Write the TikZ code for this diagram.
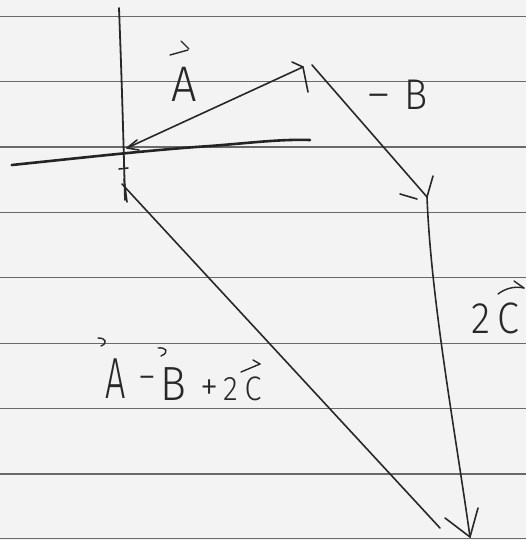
\documentclass[tikz,border=0pt]{standalone}
\usepackage{fontspec}
\IfFontExistsTF{Fira Sans Light}{%
  \newfontfamily\hand[FakeStretch=0.9]{Fira Sans Light}%
  \newfontfamily\handn[FakeStretch=0.62]{Fira Sans Light}}{%
  \newfontfamily\hand[FakeStretch=0.9]{Fira Sans}%
  \newfontfamily\handn[FakeStretch=0.62]{Fira Sans}}
\definecolor{paper}{RGB}{243,243,243}
\definecolor{ink}{RGB}{40,40,40}
\definecolor{rulecol}{RGB}{105,105,105}
\begin{document}
\begin{tikzpicture}[x=1pt,y=-1pt,
  pencil/.style={draw=ink, line width=1.6pt, line cap=round, line join=round},
  axisline/.style={draw=ink, line width=1.8pt, line cap=round},
  axisthick/.style={draw=ink!90!black, line width=2.6pt, line cap=round},
  ruled/.style={draw=rulecol, line width=1.1pt},
  hat/.style={draw=ink, line width=1.4pt, line cap=round, line join=round},
  lbl/.style={text=ink, inner sep=0pt, outer sep=0pt}]
\useasboundingbox (0,0) rectangle (526,540);
\fill[paper] (0,0) rectangle (526,540);
\foreach \yy in {16.2,81.6,147,212.4,277.8,343.2,408.6,474,538.5}
  \draw[ruled] (0,\yy) -- (526,\yy);

% points
\coordinate (Vtop) at (119,8);
\coordinate (Vbot) at (125,200);
\coordinate (Hleft) at (11.7,165);
\coordinate (Hright) at (310,140);
\coordinate (O) at (127,148);
\coordinate (Atip) at (303,67);
\coordinate (Ab1) at (292,62);
\coordinate (Ab2) at (308,92);
\coordinate (Ob1) at (137,140);
\coordinate (Ob2) at (139,150);
\coordinate (Bstart) at (312,65);
\coordinate (Btip) at (427,197);
\coordinate (Bb1) at (433,176);
\coordinate (Bd1) at (400,194);
\coordinate (Bd2) at (417,199);
\coordinate (Ctip) at (470,537);
\coordinate (Cb1) at (478,508);
\coordinate (Cb2) at (445,518);
\coordinate (Rstart) at (122,184);
\coordinate (Rend) at (440,528);
\coordinate (Rt1) at (124,179);
\coordinate (Rt2) at (127,202);
\coordinate (Pm1) at (119,169);
\coordinate (Pm2) at (128,168);

% axes
\draw[axisline] (Vtop) .. controls (121,60) and (123,120) .. (Vbot);
\draw[axisthick] (Hleft) .. controls (80,158) and (150,150) .. (210,146) .. controls (250,143) and (280,139) .. (Hright);

% vector A
\draw[pencil] (O) -- (Atip);
\draw[pencil] (Ab1) -- (Atip) -- (Ab2);
\draw[pencil] (Ob1) -- (O) -- (Ob2);
% vector -B
\draw[pencil] (Bstart) -- (Btip);
\draw[pencil] (Bb1) -- (Btip);
\draw[pencil] (Bd1) -- (Bd2);
% vector 2C
\draw[pencil] (Btip) .. controls (431,300) and (455,430) .. (Ctip);
\draw[pencil] (Cb1) -- (Ctip) -- (Cb2);
% resultant
\draw[pencil] (Rstart) -- (Rend);
\draw[pencil] (Rt1) -- (Rt2);
\draw[pencil] (Pm1) -- (Pm2);

% labels
\node[lbl, anchor=base, font=\hand\fontsize{50}{50}\selectfont] (lA) at (184,102) {A};
\draw[hat] (170,55) -- (188,50);
\draw[hat] (181,41) -- (189,49);

\node[lbl, anchor=base west, font=\hand\fontsize{43}{43}\selectfont] (lB) at (366,110) {\scalebox{1.3}[1]{−}\hspace{14pt}B};

\node[lbl, anchor=base west, font=\hand\fontsize{44}{44}\selectfont] (lC) at (471,333) {2\hspace{8pt}C};
\draw[hat] (498,294) .. controls (506,288) and (515,286) .. (524,288);
\draw[hat] (514,281) -- (524,288);

\node[lbl, anchor=base west, font=\handn\fontsize{58}{58}\selectfont] (rA) at (105,398) {A};
\draw[hat] (98,338) .. controls (106,338) and (108,343) .. (101,346);
\node[lbl, font=\hand\fontsize{40}{40}\selectfont] (rm) at (147,383) {−};
\node[lbl, anchor=base west, font=\hand\fontsize{48}{48}\selectfont] (rB) at (160,400) {B};
\draw[hat] (158,348) .. controls (166,347) and (170,352) .. (161,356);
\node[lbl, anchor=base west, font=\hand\fontsize{34}{34}\selectfont] (rP) at (200,400) {\scalebox{1.2}{+}\hspace{5pt}2\hspace{7pt}C};
\draw[hat] (241,372) -- (260,364);
\draw[hat] (253,360) -- (260,364);
\end{tikzpicture}
\end{document}
